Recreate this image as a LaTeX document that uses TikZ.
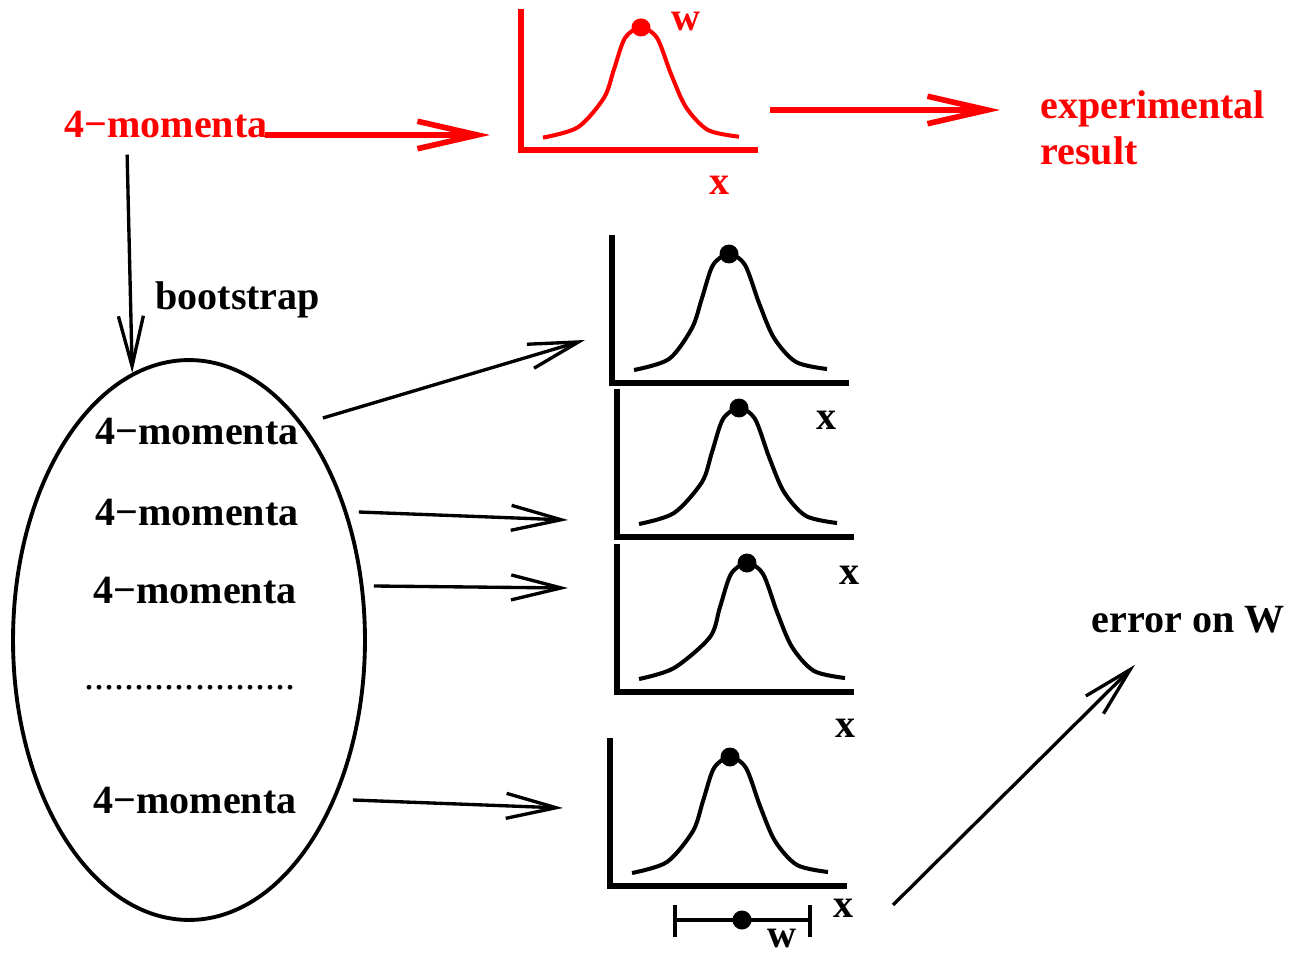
\documentclass[tikz,border=0pt]{standalone}
\usepackage{fontspec}
\setmainfont{Liberation Serif}
\usepackage{tikz}
\usetikzlibrary{
  arrows.meta,
  calc,
  positioning,
  shapes.geometric
}
\tikzset{>={Straight Barb[length=1cm,width=0.5cm]}}
\tikzset{
  lbl/.style={font=\fontsize{22.8}{26}\selectfont\bfseries, inner sep=0pt},
  axis/.style={line width=3.2pt, line cap=rect},
  curve/.style={line width=2.3pt},
  redarrow/.style={-{Straight Barb[length=1.2cm,width=0.55cm]}, red, line width=3.2pt},
  blkarrow/.style={->, line width=1.9pt},
  pics/bump/.style={code={
    \draw[axis] (0,-145) -- (0,0) -- (234,0);
    \draw[curve] plot[smooth] coordinates {(22,-13) (57,-24) (#1-37,-55) (#1-27,-85) (#1-16,-118) (#1,-129) (#1+16,-118) (#1+30,-80) (#1+45,-45) (#1+67,-21) (#1+98,-14)};
    \fill (#1,-129) circle (0.19cm);
  }}
}

\begin{document}
\begin{tikzpicture}[x=0.02cm, y=-0.02cm]
				\useasboundingbox (0,0) rectangle (1293,959);
				% red part
				\node[lbl, red] (rm) at (166,125) {4−momenta};
				\node[lbl, red, align=left, anchor=west] (exp) at (1040,128) {experimental\\result};
				\pic[red, yscale=0.95] at (521,150) {bump=120};
				\node[lbl, red] (rw) at (686,22) {w};
				\node[lbl, red] (rx) at (720,185) {x};
				\coordinate (rt) at (490,135);
				\coordinate (rs) at (770,110);
				\draw[redarrow] ($(rm.east)+(-3,10)$) -- (rt);
				\draw[redarrow] (rs) -- ($(exp.west)+(-40,-18)$);
				% bootstrap
				\node[draw, ellipse, line width=2.2pt, minimum width=7.04cm, minimum height=11.2cm, inner sep=0pt] (bag) at (189,640) {};
				\draw[blkarrow] ($(rm.south west)+(63,16)$) -- (bag.102);
				\node[lbl, anchor=west] (bs) at (155,300) {bootstrap};
				\node[lbl] (m1) at (197,432) {4−momenta};
				\node[lbl] (m2) at (197,513) {4−momenta};
				\node[lbl] (m3) at (195,591) {4−momenta};
				\node[inner sep=0pt, font=\fontsize{22.8}{26}\selectfont] (dots) at (190,688) {.....................};
				\node[lbl] (m4) at (195,801) {4−momenta};
				% replicas
				\pic at (612,383) {bump=117};
				\pic at (617,537) {bump=122};
				\pic at (617,692) {bump=130};
				\pic at (610,886) {bump=120};
				\node[lbl] (x1) at (826,420) {x};
				\node[lbl] (x2) at (849,575) {x};
				\node[lbl] (x3) at (845,728) {x};
				\node[lbl] (x4) at (843,908) {x};
				\coordinate (t1) at (585,340);
				\coordinate (t2) at (568,520);
				\coordinate (t3) at (568,588);
				\coordinate (t4) at (563,808);
				\draw[blkarrow] ($(m1.east)+(24,-14)$) -- (t1);
				\draw[blkarrow] ($(m2.east)+(60,-1)$) -- (t2);
				\draw[blkarrow] ($(m3.east)+(77,-5)$) -- (t3);
				\draw[blkarrow] ($(m4.east)+(56,-1)$) -- (t4);
				% error bar
				\coordinate (el) at (675,920);
				\coordinate (er) at (810,920);
				\draw[line width=2.4pt] (el) -- (er);
				\draw[line width=2.4pt] ($(el)+(0,-15)$) -- ($(el)+(0,17)$);
				\draw[line width=2.4pt] ($(er)+(0,-15)$) -- ($(er)+(0,17)$);
				\fill (742,920) circle (0.19cm);
				\node[lbl] (bw) at (782,938) {w};
				\node[lbl] (err) at (1188,620) {error on W};
				\coordinate (es) at (893,905);
				\draw[blkarrow] (es) -- ($(err.south)+(-53,31)$);
			\end{tikzpicture}
\end{document}
